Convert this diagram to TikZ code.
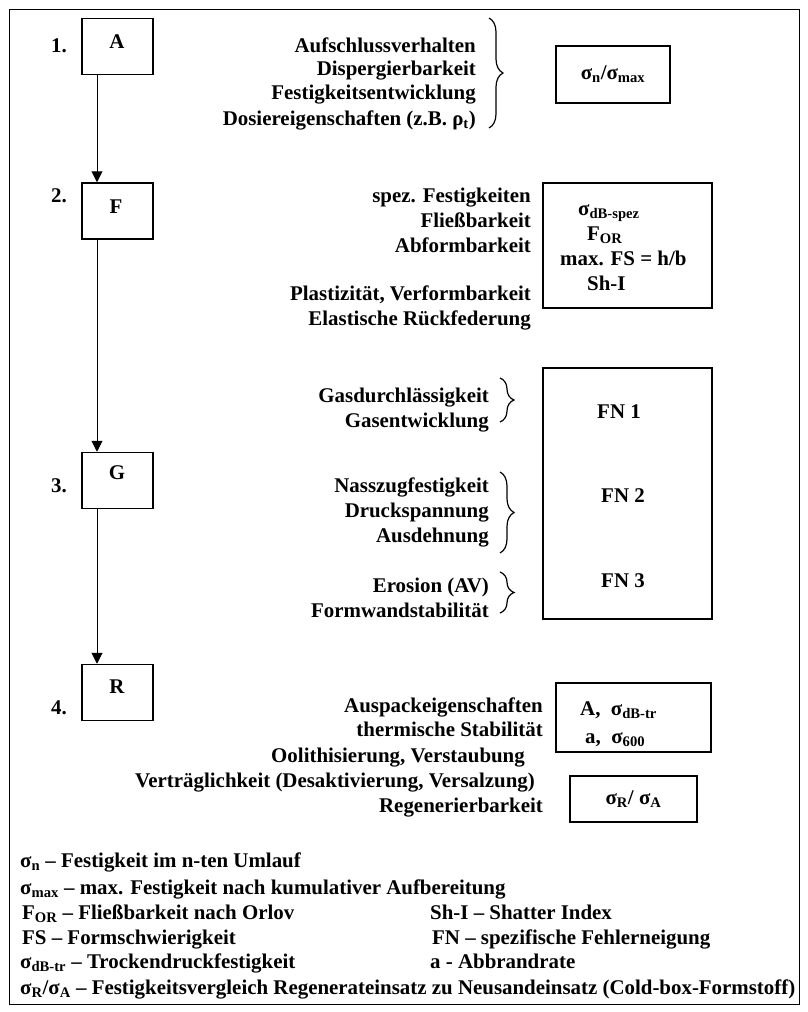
\documentclass[tikz,border=0pt]{standalone}
\usepackage{fontspec}
\setmainfont{Liberation Serif}
\usetikzlibrary{decorations.pathreplacing,arrows.meta}
\newcommand{\sbs}[1]{\textsubscript{#1}}
\begin{document}
\begin{tikzpicture}[x=1pt,y=-1pt,
 tx/.style={font=\bfseries\fontsize{20.9}{25}\selectfont, inner sep=0pt, text height=14.5pt, text depth=4.5pt},
 rt/.style={tx,anchor=east},
 lt/.style={tx,anchor=west},
 stepbox/.style={draw,line width=1.5pt,minimum width=71pt,minimum height=56pt,inner sep=0pt},
 infobox/.style={draw,line width=1.5pt,inner sep=0pt,tx,text height=,text depth=},
 brc/.style={decorate,decoration={brace,amplitude=14pt},line width=1.2pt},
 arr/.style={-{Triangle[length=11pt,width=11pt]},line width=1pt}]
\useasboundingbox (0,0) rectangle (807,1012);
\draw[line width=1pt] (9,9) rectangle (799,1004);

% step boxes
\node[stepbox] (A) at (117.5,46.5) {};
\node[stepbox] (F) at (117.5,211) {};
\node[stepbox] (G) at (117.5,480.5) {};
\node[stepbox] (R) at (117.5,692.5) {};
\node[tx] (Al) at (117,43) {A};
\node[tx] (Fl) at (116,208) {F};
\node[tx] (Gl) at (117,474) {G};
\node[tx] (Rl) at (117,688) {R};
\node[rt] (n1) at (67,47) {1.};
\node[rt] (n2) at (67,197) {2.};
\node[rt] (n3) at (67,487) {3.};
\node[rt] (n4) at (67,709) {4.};
\draw[arr] ([xshift=-20.5pt]A.south) -- ([xshift=-20.5pt]F.north);
\draw[arr] ([xshift=-20.5pt]F.south) -- ([xshift=-20.5pt]G.north);
\draw[arr] ([xshift=-20.5pt]G.south) -- ([xshift=-20.5pt]R.north);

% group 1
\node[rt] (t11) at (476,47) {Aufschlussverhalten};
\node[rt] (t12) at (476,70) {Dispergierbarkeit};
\node[rt] (t13) at (476,94) {Festigkeitsentwicklung};
\node[rt] (t14) at (476,120) {Dosiereigenschaften (z.B. ρ\sbs{t})};
\draw[brc] (489,18) -- (489,128);
\node[infobox, minimum width=114pt, minimum height=57pt] (B1) at (613,74.5) {σ\sbs{n}/σ\sbs{max}};

% group 2
\node[rt] (t21) at (531,197) {spez. Festigkeiten};
\node[rt] (t22) at (531,222) {Fließbarkeit};
\node[rt] (t23) at (531,247) {Abformbarkeit};
\node[rt] (t24) at (531,295) {Plastizität, Verformbarkeit};
\node[rt] (t25) at (531,320) {Elastische Rückfederung};
\node[infobox, minimum width=169pt, minimum height=125pt] (B2) at (627.5,245.5) {};
\node[lt] (b21) at (578,210) {σ\sbs{dB-spez}};
\node[lt] (b22) at (587,235) {F\sbs{OR}};
\node[lt] (b23) at (560,260) {max. FS = h/b};
\node[lt] (b24) at (587,285) {Sh-I};

% group 3
\node[rt] (t31) at (489,397) {Gasdurchlässigkeit};
\node[rt] (t32) at (489,422) {Gasentwicklung};
\draw[brc] (500,378) -- (500,422);
\node[rt] (t33) at (489,487) {Nasszugfestigkeit};
\node[rt] (t34) at (489,512) {Druckspannung};
\node[rt] (t35) at (489,537) {Ausdehnung};
\draw[brc] (500,472) -- (500,553);
\node[rt] (t36) at (489,587) {Erosion (AV)};
\node[rt] (t37) at (489,612) {Formwandstabilität};
\draw[brc] (500,572) -- (500,613);
\node[infobox, minimum width=169pt, minimum height=251pt] (B3) at (627.5,493.5) {};
\node[tx] (fn1) at (619,413) {FN 1};
\node[tx] (fn2) at (623,497) {FN 2};
\node[tx] (fn3) at (623,582) {FN 3};

% group 4
\node[rt] (t41) at (543,707) {Auspackeigenschaften};
\node[rt] (t42) at (543,731) {thermische Stabilität};
\node[rt] (t43) at (525,757) {Oolithisierung, Verstaubung};
\node[rt] (t44) at (535,782) {Verträglichkeit (Desaktivierung, Versalzung)};
\node[rt] (t45) at (543,807) {Regenerierbarkeit};
\node[infobox, minimum width=155pt, minimum height=69pt] (B4) at (633.5,717.5) {};
\node[lt] (b41) at (580,710) {A,\ \ σ\sbs{dB-tr}};
\node[lt] (b42) at (585,738) {a,\ \ σ\sbs{600}};
\node[infobox, minimum width=127pt, minimum height=46pt] (B5) at (633.5,799) {σ\sbs{R}/ σ\sbs{A}};

% legend
\node[lt] (l1) at (20,862) {σ\sbs{n} – Festigkeit im n-ten Umlauf};
\node[lt] (l2) at (20,889) {σ\sbs{max} – max. Festigkeit nach kumulativer Aufbereitung};
\node[lt] (l3) at (22,914) {F\sbs{OR} – Fließbarkeit nach Orlov};
\node[lt] (l4) at (430,914) {Sh-I – Shatter Index};
\node[lt] (l5) at (22,939) {FS – Formschwierigkeit};
\node[lt] (l6) at (432,939) {FN – spezifische Fehlerneigung};
\node[lt] (l7) at (20,963) {σ\sbs{dB-tr} – Trockendruckfestigkeit};
\node[lt] (l8) at (430,963) {a - Abbrandrate};
\node[lt] (l9) at (20,989) {σ\sbs{R}/σ\sbs{A} – Festigkeitsvergleich Regenerateinsatz zu Neusandeinsatz (Cold-box-Formstoff)};
\end{tikzpicture}
\end{document}
